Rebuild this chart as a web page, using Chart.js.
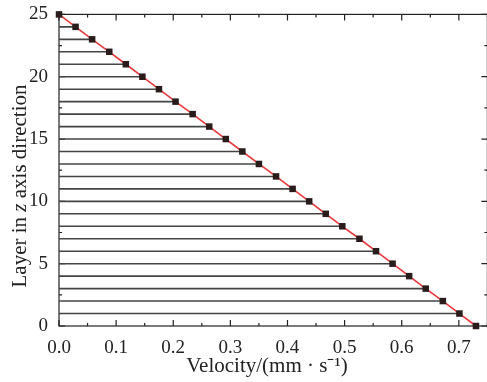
<!DOCTYPE html>
<html>
<head>
<meta charset="utf-8">
<script src="https://cdn.jsdelivr.net/npm/chart.js@4"></script>
<style>
  html, body { margin: 0; padding: 0; background: #fff; overflow: hidden; }
  #wrap { width: 492px; height: 382px; }
</style>
</head>
<body>
<div id="wrap"><canvas id="chart" width="492" height="382"></canvas></div>
<script>
// Layers (z) and velocity
const layers = [25, 24, 23, 22, 21, 20, 19, 18, 17, 16, 15, 14, 13, 12, 11, 10, 9, 8, 7, 6, 5, 4, 3, 2, 1, 0];
const velocity = [0, 0.029, 0.058, 0.088, 0.117, 0.146, 0.175, 0.204, 0.234, 0.263, 0.292, 0.321, 0.350,
                  0.380, 0.409, 0.438, 0.467, 0.496, 0.526, 0.555, 0.584, 0.613, 0.642, 0.672, 0.701, 0.730];
const xTicks = [0, 0.1, 0.2, 0.3, 0.4, 0.5, 0.6, 0.7];
const yTicks = [0, 5, 10, 15, 20, 25];

const FONT = '"Liberation Serif", "Times New Roman", serif';

// Horizontal layer lines, from the axis to the velocity point
const layerLines = layers.filter(l => l > 0 && l < 25).map(l => {
    const v = velocity[layers.indexOf(l)];
    return {
        type: 'line',
        data: [{ x: 0, y: l }, { x: v, y: l }],
        borderColor: '#444',
        borderWidth: 1.6,
        pointRadius: 0,
        order: 3
    };
});

// Frame, inward ticks and axis titles
const framePlugin = {
    id: 'frame',
    beforeDatasetsDraw(chart) {
        const { ctx, chartArea: a, scales: { x, y } } = chart;
        ctx.save();
        ctx.strokeStyle = '#222';
        ctx.lineWidth = 1.2;
        ctx.strokeRect(a.left, a.top, a.right - a.left, a.bottom - a.top);
        ctx.beginPath();
        for (let v = 0; v <= 0.75001; v += 0.05) {
            const px = x.getPixelForValue(v);
            const len = Math.abs(v * 10 - Math.round(v * 10)) < 1e-6 ? 6 : 3;
            ctx.moveTo(px, a.bottom); ctx.lineTo(px, a.bottom - len);
            ctx.moveTo(px, a.top); ctx.lineTo(px, a.top + len);
        }
        for (let v = 0; v <= 25; v += 2.5) {
            const py = y.getPixelForValue(v);
            const len = v % 5 === 0 ? 6 : 3;
            ctx.moveTo(a.left, py); ctx.lineTo(a.left + len, py);
            ctx.moveTo(a.right, py); ctx.lineTo(a.right - len, py);
        }
        ctx.stroke();

        ctx.fillStyle = '#222';
        ctx.textBaseline = 'middle';
        // x title
        ctx.textAlign = 'center';
        ctx.font = '21px ' + FONT;
        ctx.fillText('Velocity/(mm \u00b7 s\u207b\u00b9)', 267, 366);
        // y title with italic z
        const parts = [['Layer in ', ''], ['z', 'italic '], [' axis direction', '']];
        let total = 0;
        parts.forEach(p => { ctx.font = p[1] + '21px ' + FONT; total += ctx.measureText(p[0]).width; });
        ctx.translate(20, 186);
        ctx.rotate(-Math.PI / 2);
        ctx.textAlign = 'left';
        let cx = -total / 2;
        parts.forEach(p => {
            ctx.font = p[1] + '21px ' + FONT;
            ctx.fillText(p[0], cx, 0);
            cx += ctx.measureText(p[0]).width;
        });
        ctx.restore();
    }
};

new Chart(document.getElementById('chart'), {
    type: 'line',
    data: {
        datasets: [
            ...layerLines,
            {
                data: layers.map((l, i) => ({ x: velocity[i], y: l })),
                borderColor: '#e8383c',
                borderWidth: 1.6,
                pointStyle: 'rect',
                pointRadius: 4.6,
                pointBackgroundColor: '#2b1c1c',
                pointBorderColor: '#2b1c1c',
                pointBorderWidth: 0,
                clip: false,
                order: 1
            }
        ]
    },
    options: {
        responsive: false,
        animation: false,
        layout: { padding: { top: 10, right: 1, left: 0, bottom: 0 } },
        plugins: { legend: { display: false }, tooltip: { enabled: false } },
        scales: {
            x: {
                type: 'linear',
                min: 0,
                max: 0.75,
                grid: { display: false },
                border: { display: false },
                afterBuildTicks: s => { s.ticks = xTicks.map(v => ({ value: v })); },
                afterFit: s => { s.height = 56; },
                ticks: {
                    color: '#222',
                    padding: 3,
                    font: { family: FONT, size: 19 },
                    maxRotation: 0,
                    callback: v => v.toFixed(1)
                }
            },
            y: {
                type: 'linear',
                min: 0,
                max: 25,
                grid: { display: false },
                border: { display: false },
                afterBuildTicks: s => { s.ticks = yTicks.map(v => ({ value: v })); },
                afterFit: s => { s.width = 59; },
                ticks: {
                    color: '#222',
                    padding: 3,
                    font: { family: FONT, size: 19 }
                }
            }
        }
    },
    plugins: [framePlugin]
});
</script>
</body>
</html>
